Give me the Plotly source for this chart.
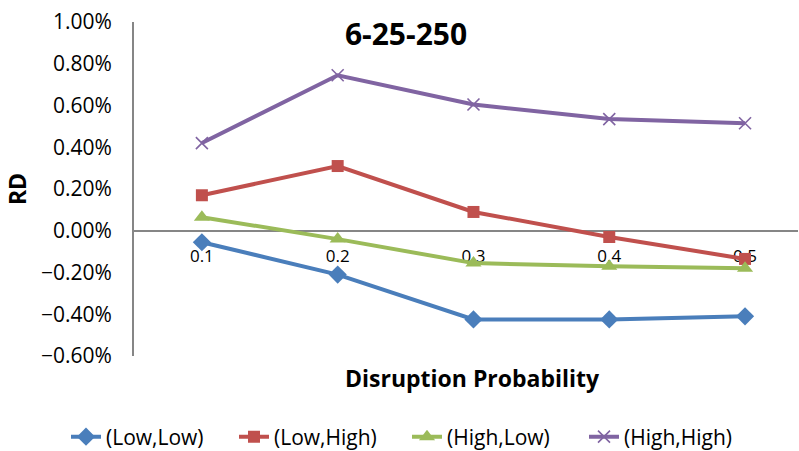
import plotly.graph_objects as go

# Disruption probability categories and RD values (fractions, shown as %)
probabilities = ["0.1", "0.2", "0.3", "0.4", "0.5"]
low_low = [-0.00055, -0.0021, -0.00425, -0.00425, -0.0041]
low_high = [0.0017, 0.0031, 0.0009, -0.0003, -0.00135]
high_low = [0.00065, -0.0004, -0.00155, -0.0017, -0.0018]
high_high = [0.0042, 0.00745, 0.00605, 0.00535, 0.00515]

y_ticks = [-0.006, -0.004, -0.002, 0.0, 0.002, 0.004, 0.006, 0.008, 0.01]
y_min, y_max = -0.006, 0.01

FONT = "Open Sans"

series = [
    ("(Low,Low)", low_low, "#4A7EBB", "diamond", 14, 0),
    ("(Low,High)", low_high, "#C0504D", "square", 12, 0),
    ("(High,Low)", high_low, "#9BBB59", "triangle-up", 14, 0),
    ("(High,High)", high_high, "#8064A2", "x-thin", 12, 1.6),
]

# left edge (px) of each legend entry along the bottom row
legend_left = [66, 234, 407, 584]

fig = go.Figure()
legends = {}
for i, (name, vals, color, symbol, size, lw) in enumerate(series):
    marker = dict(symbol=symbol, size=size, color=color)
    if lw:
        marker["line"] = dict(color=color, width=lw)
    key = "legend" if i == 0 else f"legend{i + 1}"
    fig.add_trace(go.Scatter(
        x=probabilities, y=vals, name=name, mode="lines+markers",
        line=dict(color=color, width=4),
        marker=marker, cliponaxis=False, legend=key,
    ))
    legends[key] = dict(
        orientation="h", xref="container", yref="container",
        x=legend_left[i] / 799, xanchor="left",
        y=1 - 437 / 451, yanchor="middle",
        font=dict(family=FONT, size=21), itemwidth=30,
        bgcolor="rgba(0,0,0,0)",
    )

# place the category axis where y = 0
zero_pos = (0 - y_min) / (y_max - y_min)

fig.update_layout(
    width=799, height=451,
    margin=dict(l=134, r=1, t=22, b=95),
    paper_bgcolor="white", plot_bgcolor="white",
    font=dict(family=FONT, color="black"),
    showlegend=True,
    title=dict(
        text="<b>6-25-250</b>", font=dict(family=FONT, size=30, color="black"),
        x=406 / 799, xref="container", xanchor="center",
        y=1 - 34 / 451, yref="container", yanchor="middle",
    ),
    xaxis=dict(
        type="category", range=[-0.5, 4.39],
        anchor="free", position=zero_pos,
        showline=True, linecolor="#868686", linewidth=2,
        showgrid=False, zeroline=False,
        ticks="outside", ticklen=10, tickcolor="rgba(0,0,0,0)",
        tickfont=dict(family=FONT, size=17),
        layer="below traces",
    ),
    yaxis=dict(
        range=[y_min, y_max], tickvals=y_ticks, tickformat=".2%",
        showline=True, linecolor="#868686", linewidth=2,
        showgrid=False, zeroline=False,
        ticks="outside", ticklen=16, tickcolor="rgba(0,0,0,0)",
        tickfont=dict(family=FONT, size=21),
        title=dict(text="<b>RD</b>", font=dict(family=FONT, size=23), standoff=8),
        layer="below traces",
    ),
    annotations=[dict(
        text="<b>Disruption Probability</b>", xref="paper", yref="paper",
        x=0.51, y=-0.065, xanchor="center", yanchor="middle", showarrow=False,
        font=dict(family=FONT, size=23, color="black"),
    )],
    **legends,
)

fig.write_html("out.html")
